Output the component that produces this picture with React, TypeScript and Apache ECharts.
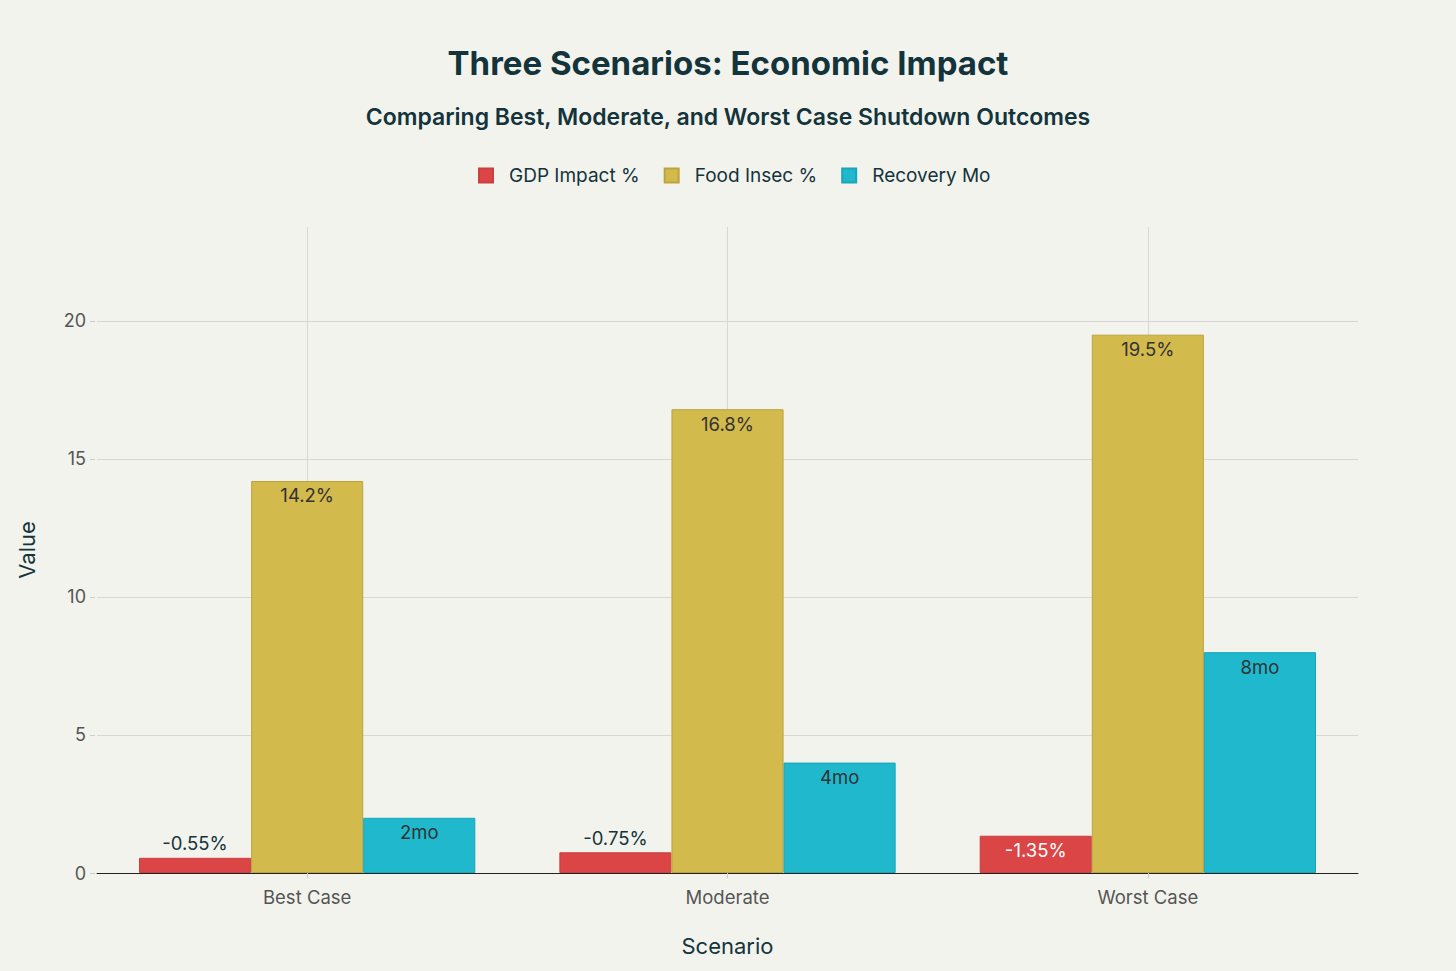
import React, { useEffect, useRef } from "react";
import * as echarts from "echarts";

const scenarios = ["Best Case", "Moderate", "Worst Case"];
const gdpImpact = [0.55, 0.75, 1.35]; // shown as negative % in labels
const foodInsecurity = [14.2, 16.8, 19.5];
const recoveryMonths = [2, 4, 8];
const yTicks = [0, 5, 10, 15, 20];

const FONT = "Inter, 'Noto Sans', sans-serif";
const DARK = "#13343B";

const App: React.FC = () => {
  const chartRef = useRef<HTMLDivElement | null>(null);

  useEffect(() => {
    if (!chartRef.current) return;
    const chart = echarts.init(chartRef.current, undefined, { renderer: "svg" });

    // grid lines drawn as mark lines on the middle series so verticals sit at category centres
    const gridLines = [
      ...yTicks.filter((v) => v > 0).map((v) => ({ yAxis: v })),
      ...scenarios.map((s) => ({ xAxis: s })),
    ];

    const option = {
      animation: false,
      backgroundColor: "#F3F3EE",
      textStyle: { fontFamily: FONT },
      title: [
        {
          text: "Three Scenarios: Economic Impact",
          left: "center",
          top: 41,
          textStyle: { fontFamily: FONT, fontSize: 33, fontWeight: "bold", color: DARK },
        },
        {
          text: "Comparing Best, Moderate, and Worst Case Shutdown Outcomes",
          left: "center",
          top: 100,
          textStyle: { fontFamily: FONT, fontSize: 23, fontWeight: 600, color: DARK },
        },
      ],
      legend: {
        top: 161,
        left: 473,
        itemWidth: 14,
        itemHeight: 14,
        itemGap: 24,
        icon: "rect",
        textStyle: { fontFamily: FONT, fontSize: 19, color: DARK, padding: [0, 0, 0, 11] },
        data: ["GDP Impact %", "Food Insec %", "Recovery Mo"],
      },
      grid: { left: 97, right: 98, top: 227, bottom: 98 },
      xAxis: {
        type: "category",
        data: scenarios,
        name: "Scenario",
        nameLocation: "middle",
        nameGap: 62,
        nameTextStyle: { fontFamily: FONT, fontSize: 22, color: DARK },
        axisLine: { show: true, lineStyle: { color: "#222", width: 1 } },
        axisTick: { show: true, alignWithLabel: true, length: 5, lineStyle: { color: "#ccc" } },
        axisLabel: { fontFamily: FONT, fontSize: 18.5, color: "#555", margin: 14 },
        splitLine: { show: false },
      },
      yAxis: {
        type: "value",
        min: 0,
        max: 23.4,
        interval: 5,
        name: "Value",
        nameLocation: "middle",
        nameGap: 57,
        nameTextStyle: { fontFamily: FONT, fontSize: 22, color: DARK },
        offset: 2,
        axisLine: { show: false },
        axisTick: { show: true, length: 5, lineStyle: { color: "#ccc" }, customValues: yTicks },
        axisLabel: { fontFamily: FONT, fontSize: 18, color: "#555", margin: 9, customValues: yTicks },
        splitLine: { show: false },
      },
      series: [
        {
          name: "GDP Impact %",
          type: "bar",
          barWidth: "26.67%",
          barGap: "0%",
          itemStyle: { color: "#DB4545", borderColor: "#C9403F", borderWidth: 1 },
          data: gdpImpact.map((v, i) => ({
            value: v,
            label:
              i === gdpImpact.length - 1
                ? { position: "insideTop", color: "#ffffff" }
                : { position: "top", color: DARK },
          })),
          label: {
            show: true,
            fontFamily: FONT,
            fontSize: 18.5,
            distance: 5,
            formatter: (p: any) => `-${p.value.toFixed(2)}%`,
          },
          z: 3,
        },
        {
          name: "Food Insec %",
          type: "bar",
          barWidth: "26.67%",
          barGap: "0%",
          itemStyle: { color: "#D2BA4C", borderColor: "#BBA33F", borderWidth: 1 },
          data: foodInsecurity,
          label: {
            show: true,
            position: "insideTop",
            distance: 5,
            fontFamily: FONT,
            fontSize: 18.5,
            color: "#333",
            formatter: (p: any) => `${p.value}%`,
          },
          markLine: {
            silent: true,
            symbol: "none",
            label: { show: false },
            lineStyle: { color: "#d8d8d3", type: "solid", width: 1 },
            data: gridLines,
            z: 0,
          },
          z: 3,
        },
        {
          name: "Recovery Mo",
          type: "bar",
          barWidth: "26.67%",
          barGap: "0%",
          itemStyle: { color: "#1FB8CD", borderColor: "#1AA5B8", borderWidth: 1 },
          data: recoveryMonths,
          label: {
            show: true,
            position: "insideTop",
            distance: 5,
            fontFamily: FONT,
            fontSize: 18.5,
            color: "#333",
            formatter: (p: any) => `${p.value}mo`,
          },
          z: 3,
        },
      ],
    };

    chart.setOption(option);
    return () => chart.dispose();
  }, []);

  return (
    <div style={{ position: "absolute", left: 0, top: 0, width: 1456, height: 971 }}>
      <div ref={chartRef} style={{ width: "100%", height: "100%" }} />
    </div>
  );
};

export default App;
